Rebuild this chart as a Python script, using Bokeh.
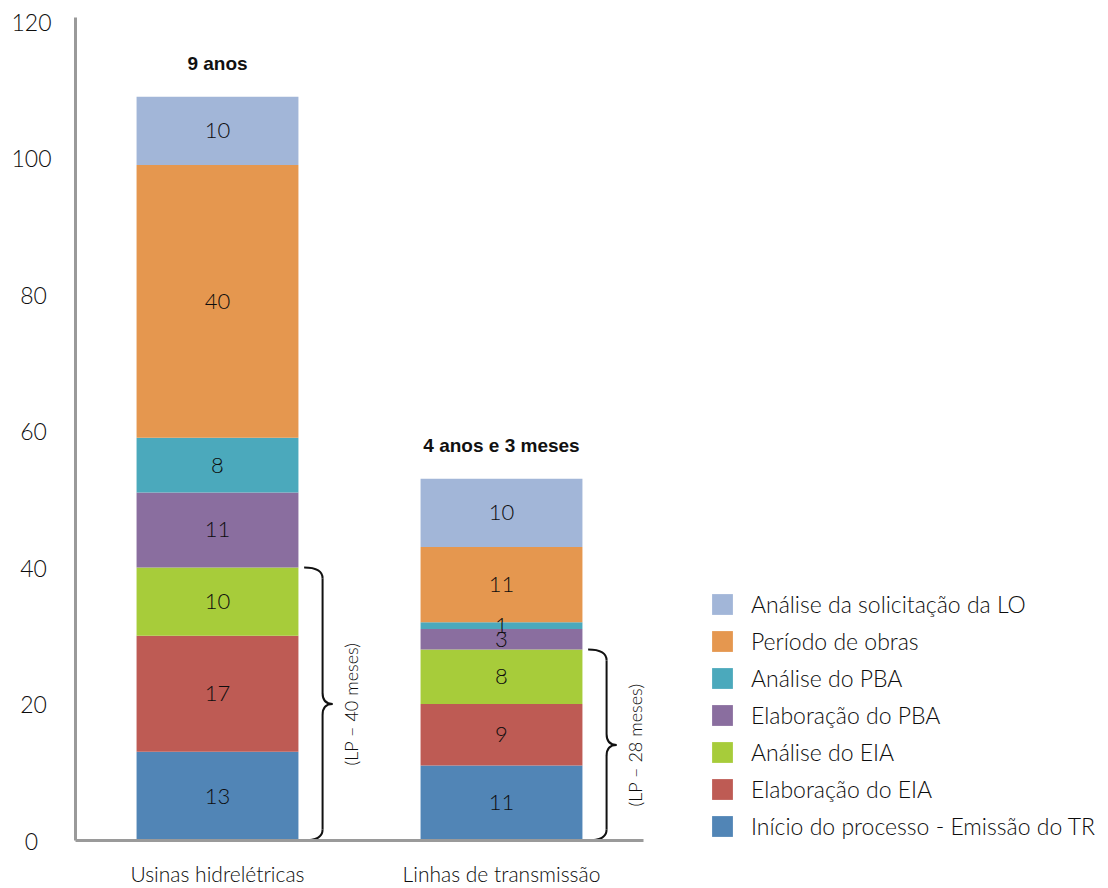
from bokeh.plotting import figure
from bokeh.models import (ColumnDataSource, Range1d, Legend, LegendItem, LabelSet,
                          FixedTicker)
from bokeh.core.properties import value
from bokeh.embed import file_html
from bokeh.resources import INLINE
import math

# Licensing timeline (months) per stage, for each type of project
categories = ["Usinas hidrelétricas", "Linhas de transmissão"]
stages = [
    "Início do processo - Emissão do TR",
    "Elaboração do EIA",
    "Análise do EIA",
    "Elaboração do PBA",
    "Análise do PBA",
    "Período de obras",
    "Análise da solicitação da LO",
]
inicio = [13, 11]
elab_eia = [17, 9]
analise_eia = [10, 8]
elab_pba = [11, 3]
analise_pba = [8, 1]
obras = [40, 11]
analise_lo = [10, 10]
durations = ["9 anos", "4 anos e 3 meses"]
y_ticks = [0, 20, 40, 60, 80, 100, 120]

colors = ["#5185B6", "#BE5B54", "#A7CC3A", "#8A6E9F", "#4BA9BC", "#E5974F", "#A2B6D8"]

series = [inicio, elab_eia, analise_eia, elab_pba, analise_pba, obras, analise_lo]
keys = ["s%d" % i for i in range(len(series))]

LIGHT = "'Lato Light', Lato, sans-serif"
BOLD = "'Liberation Sans', Arial, sans-serif"
TXT = "#0d0d0d"

# one unit slot per category; the plot area also holds the legend on the right
xpos = [i + 0.5 for i in range(len(categories))]
data = {"x": xpos}
for k, s in zip(keys, series):
    data[k] = s
src = ColumnDataSource(data)

p = figure(x_range=Range1d(0, 1033 / 284), y_range=Range1d(0, 120.6),
           width=1108, height=888, output_backend="svg", toolbar_location=None,
           min_border_left=75, min_border_right=0, min_border_top=17,
           min_border_bottom=45)
p.outline_line_color = None
p.grid.visible = False
p.background_fill_color = "white"

bar_w = 0.57
renderers = p.vbar_stack(keys, x="x", width=bar_w, color=colors, line_color=None,
                         source=src)

# axes
for ax in (p.xaxis[0], p.yaxis[0]):
    ax.axis_line_color = "#9a9a9a"
    ax.axis_line_width = 3
    ax.major_tick_line_color = None
    ax.minor_tick_line_color = None
    ax.major_tick_out = 0
    ax.major_tick_in = 0
p.xaxis.ticker = FixedTicker(ticks=xpos)
p.xaxis.major_label_overrides = {x: c for x, c in zip(xpos, categories)}
p.xaxis.bounds = (0, len(categories))
p.xaxis.major_label_text_font = LIGHT
p.xaxis.major_label_text_font_size = "21px"
p.xaxis.major_label_text_color = TXT
p.xaxis.major_label_standoff = 20

p.yaxis.ticker = y_ticks
p.yaxis.major_label_text_font = LIGHT
p.yaxis.major_label_text_font_size = "23px"
p.yaxis.major_label_text_color = TXT
p.yaxis.major_label_standoff = 24
# pad shorter numbers so the tick labels sit centred in the margin
pads = {1: "\u2007", 2: "\u2008", 3: ""}
p.yaxis.major_label_overrides = {v: str(v) + pads[len(str(v))] for v in y_ticks}

# value labels inside each segment
lx, ly, lt = [], [], []
for ci, xc in enumerate(xpos):
    base = 0
    for s in series:
        v = s[ci]
        lx.append(xc)
        ly.append(base + v / 2)
        lt.append(str(v))
        base += v
seg_src = ColumnDataSource(dict(x=lx, y=ly, t=lt))
p.add_layout(LabelSet(x="x", y="y", text="t", source=seg_src, text_align="center",
                      text_baseline="middle", text_font=value(LIGHT),
                      text_font_size="22px", text_color=TXT))

# total duration above each bar
totals = [sum(s[ci] for s in series) for ci in range(len(categories))]
tot_src = ColumnDataSource(dict(x=xpos, y=totals, t=durations))
p.add_layout(LabelSet(x="x", y="y", text="t", source=tot_src, y_offset=33,
                      text_align="center", text_baseline="middle",
                      text_font=value(BOLD), text_font_style="bold",
                      text_font_size="19px", text_color="#111111"))

# braces spanning the licensing phase (TR + EIA)
lp = [inicio[i] + elab_eia[i] + analise_eia[i] for i in range(len(categories))]
xl, xm, xt, r = 0.305, 0.37, 0.405, 1.6
q = dict(x0=[], y0=[], x1=[], y1=[], cx=[], cy=[])
sg = dict(x0=[], y0=[], x1=[], y1=[])
for c, top in zip(xpos, lp):
    mid = top / 2
    a, m, t = c + xl, c + xm, c + xt
    for (x0, y0, x1, y1, cx, cy) in [
        (a, top, m, top - r, m, top),
        (m, mid + r, t, mid, m, mid),
        (t, mid, m, mid - r, m, mid),
        (m, r, a, 0, m, 0),
    ]:
        q["x0"].append(x0); q["y0"].append(y0); q["x1"].append(x1)
        q["y1"].append(y1); q["cx"].append(cx); q["cy"].append(cy)
    for (x0, y0, x1, y1) in [(m, top - r, m, mid + r), (m, mid - r, m, r)]:
        sg["x0"].append(x0); sg["y0"].append(y0); sg["x1"].append(x1); sg["y1"].append(y1)
p.quadratic(x0="x0", y0="y0", x1="x1", y1="y1", cx="cx", cy="cy",
            source=ColumnDataSource(q), line_color="#111111", line_width=2)
p.segment(x0="x0", y0="y0", x1="x1", y1="y1", source=ColumnDataSource(sg),
          line_color="#111111", line_width=2)

lp_src = ColumnDataSource(dict(x=[c + 0.47 for c in xpos],
                               y=[v / 2 for v in lp],
                               t=["(LP – %d meses)" % v for v in lp]))
p.add_layout(LabelSet(x="x", y="y", text="t", source=lp_src, angle=math.pi / 2,
                      text_align="center", text_baseline="middle",
                      text_font=value(LIGHT), text_font_size="18px", text_color=TXT))

# legend beside the bars, top entry = top of the stack
items = [LegendItem(label=stages[i], renderers=[renderers[i]])
         for i in reversed(range(len(stages)))]
legend = Legend(items=items, location=(634, 0), orientation="vertical",
                glyph_width=26, glyph_height=26, label_height=28, spacing=9,
                label_standoff=16, padding=0, margin=0,
                label_text_font=LIGHT, label_text_font_size="23px",
                label_text_color=TXT, border_line_color=None,
                background_fill_alpha=0)
p.add_layout(legend)

open("out.html", "w").write(file_html(p, INLINE))
